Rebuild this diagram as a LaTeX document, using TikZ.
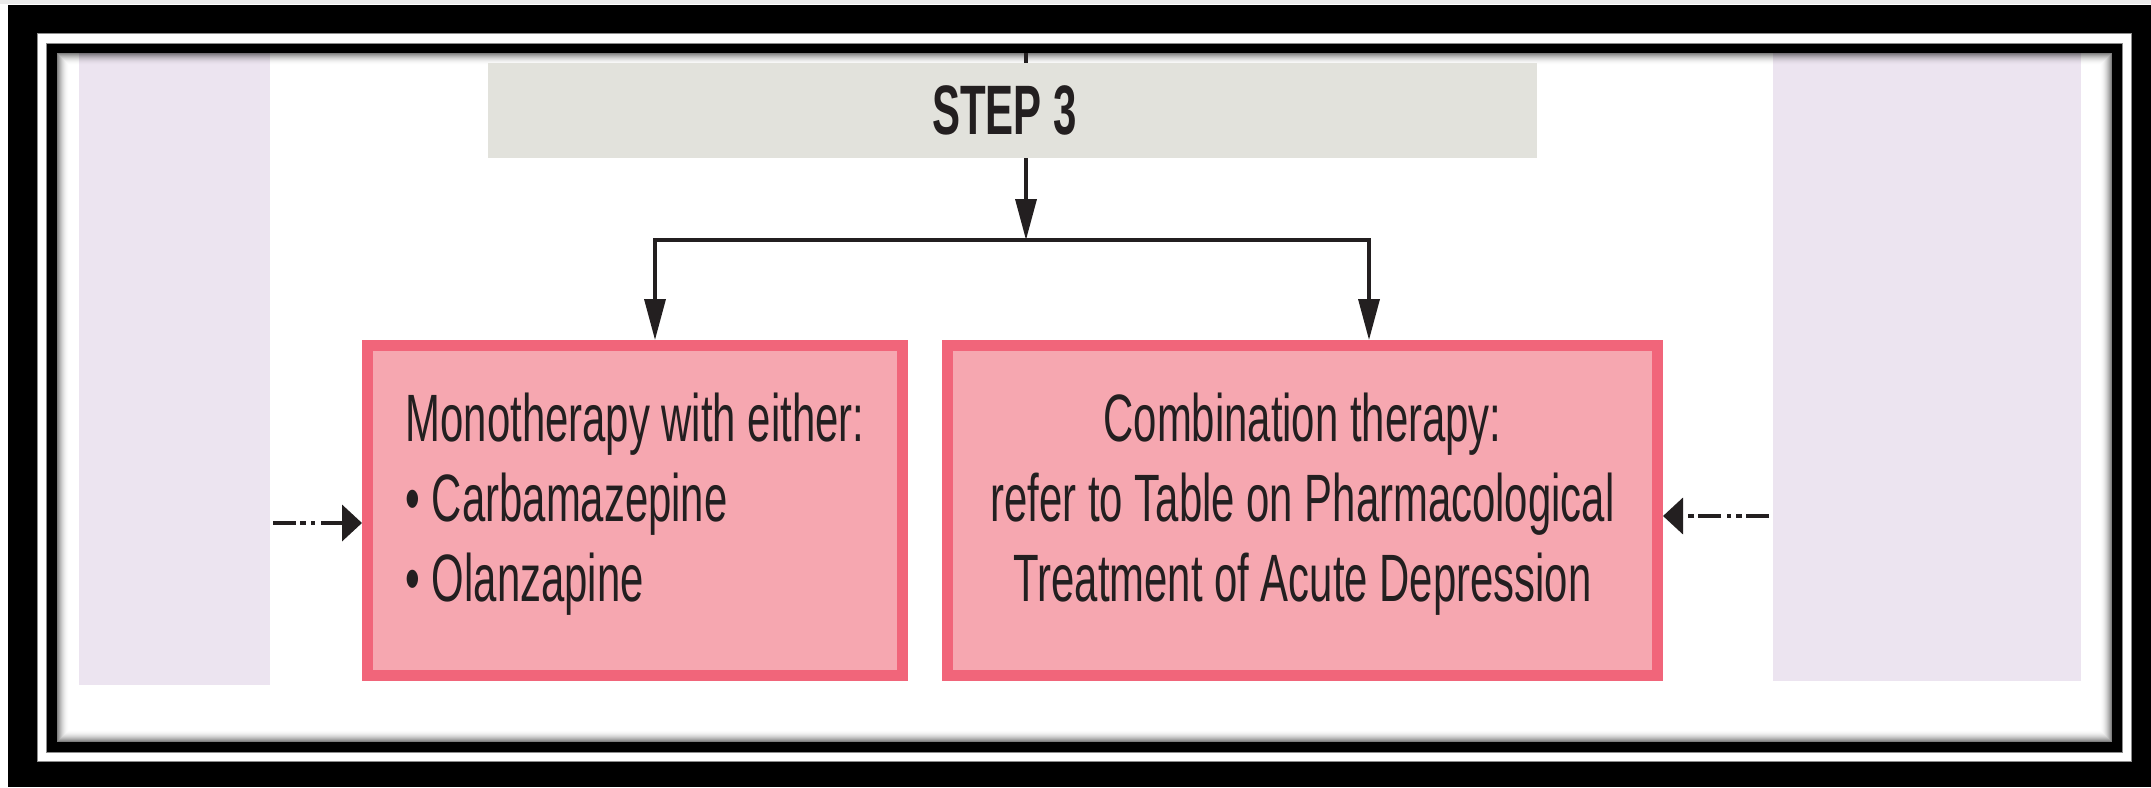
\documentclass[tikz,border=0pt]{standalone}
\usepackage{fontspec}
\newfontfamily\condfont[FakeStretch=0.625]{Liberation Sans}
\newfontfamily\stepfont[FakeStretch=0.6]{Liberation Sans}
\usetikzlibrary{arrows.meta,calc}
\definecolor{ink}{HTML}{231F20}
\definecolor{lavender}{HTML}{ECE4F0}
\definecolor{stepgray}{HTML}{E2E2DC}
\definecolor{pinkline}{HTML}{F1657A}
\definecolor{pinkfill}{HTML}{F6A7B0}

\begin{document}
\begin{tikzpicture}[x=1pt,y=-1pt,
  stepbox/.style={fill=stepgray, minimum width=1049pt, minimum height=95pt,
    inner sep=0pt, text=ink, font=\stepfont\bfseries\fontsize{70}{84}\selectfont},
  drugbox/.style={draw=pinkline, fill=pinkfill, line width=11pt,
    minimum height=330pt, inner sep=0pt},
  drugtext/.style={text=ink, inner sep=0pt, yshift=6pt,
    font=\condfont\fontsize{67}{80}\selectfont},
  link/.style={draw=ink, line width=3.5pt},
  flow/.style={link, -{Triangle[length=41pt,width=21pt]}},
  sidearrow/.style={draw=ink, line width=4pt,
    dash pattern=on 23pt off 4pt on 6pt off 5pt on 4pt off 6pt,
    -{Triangle[length=20pt,width=36pt]}},
]
\useasboundingbox (0,0) rectangle (2151,787);

% page and double black frame
\fill[white] (0,0) rectangle (2151,787);
\fill[black!8] (0,0) rectangle (2151,4);
\fill[black] (8,5) rectangle (2151,787);
\filldraw[fill=white, draw=black!45, line width=1pt] (37,33) rectangle (2131,761);
\filldraw[fill=black, draw=black!45, line width=1pt] (46,43) rectangle (2122,752);
\fill[white] (57,53) rectangle (2112,742);

% side panels
\fill[lavender] (79,53) rectangle (270,685);
\fill[lavender] (1773,53) rectangle (2081,681);

% soft inner shadow along the inner frame
\foreach \i [evaluate=\i as \op using {0.5*(1-\i/12)^2}] in {0,...,11}
  \draw[black, opacity=\op, line width=1pt]
    (57.5+\i,53.5+\i) rectangle (2111.5-\i,741.5-\i);

% boxes
\node[stepbox] (step) at (1012.5,110.5) {STEP 3\kern16pt};
\node[drugbox, minimum width=535pt,
  label={[drugtext, align=left]center:Monotherapy with either:\\
    \textbullet{} Carbamazepine\\ \textbullet{} Olanzapine}] (mono) at (635,510.5) {};
\node[drugbox, minimum width=710pt,
  label={[drugtext, align=center]center:Combination therapy:\\
    refer to Table on Pharmacological\\ Treatment of Acute Depression}] (combo) at (1302.5,510.5) {};

% connectors
\coordinate (feed) at (1026,53);
\coordinate (fork) at (1026,240);
\coordinate (forkL) at (655,240);
\coordinate (forkR) at (1369,240);
\draw[link] (feed) -- (feed |- step.north);
\draw[flow] (feed |- step.south) -- (fork);
\draw[flow] (fork) -- (forkL) -- (forkL |- mono.north);
\draw[flow] (fork) -- (forkR) -- (forkR |- combo.north);

\coordinate (leftsrc) at (273,523);
\coordinate (rightsrc) at (1769,516);
\draw[sidearrow] (leftsrc) -- (leftsrc -| mono.west);
\draw[sidearrow] (rightsrc) -- (rightsrc -| combo.east);
\end{tikzpicture}
\end{document}
